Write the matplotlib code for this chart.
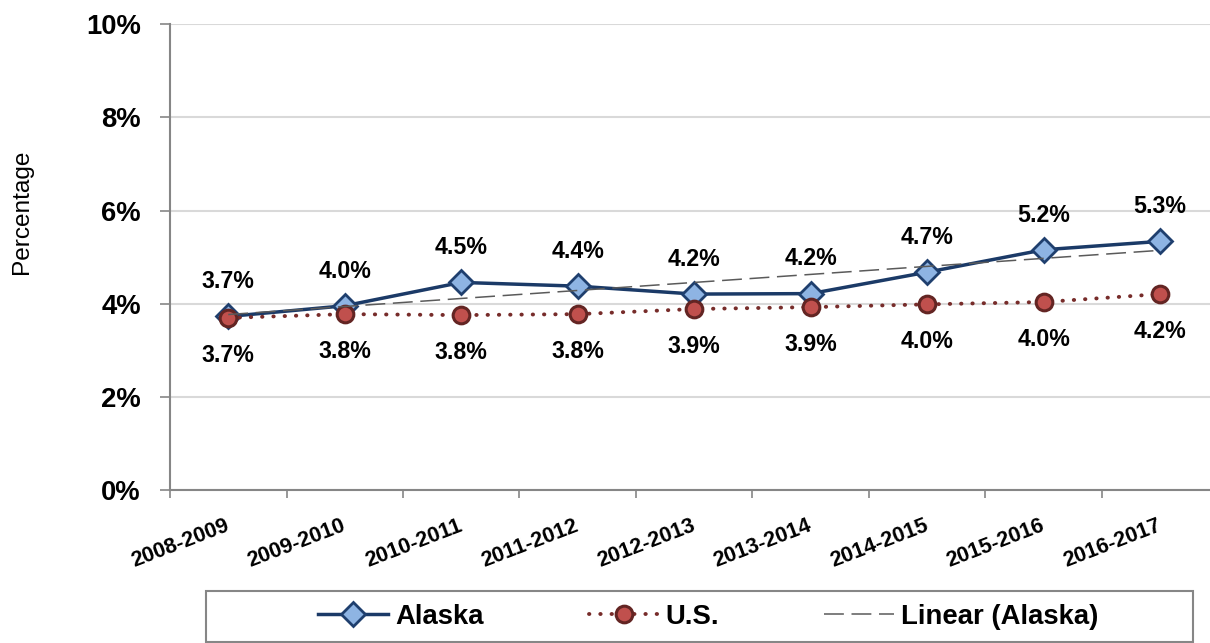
import numpy as np
import matplotlib
matplotlib.use("Agg")
import matplotlib.pyplot as plt
from matplotlib import font_manager
from matplotlib.patches import Rectangle

# Data
years = ['2008-2009', '2009-2010', '2010-2011', '2011-2012', '2012-2013',
         '2013-2014', '2014-2015', '2015-2016', '2016-2017']
alaska = [3.73, 3.96, 4.46, 4.38, 4.21, 4.22, 4.68, 5.16, 5.34]   # [%]
us = [3.70, 3.78, 3.76, 3.78, 3.89, 3.93, 3.99, 4.04, 4.21]       # [%]
y_ticks = [0, 2, 4, 6, 8, 10]

# The original uses a narrow bold face; use it if installed, else shrink Liberation Sans
names = set(f.name for f in font_manager.fontManager.ttflist)
if 'Liberation Sans Narrow' in names:
    narrow, k = 'Liberation Sans Narrow', 1.0
elif 'Arial Narrow' in names:
    narrow, k = 'Arial Narrow', 1.0
else:
    narrow, k = 'Liberation Sans', 0.9
wide = 'Liberation Sans'

x = np.arange(len(years))
trend = np.polyval(np.polyfit(x, alaska, 1), x)   # Excel style linear trendline

fig = plt.figure(figsize=(12.1, 6.43), dpi=100)
ax = fig.add_axes([0.1405, 0.2372, 0.8665, 0.7255])

ax.plot(x, alaska, '-', color='#1B3A67', lw=2.5, marker='D', ms=12,
        mfc='#8EB4E3', mec='#1F3F6E', mew=2, label='Alaska', zorder=3)
ax.plot(x, us, color='#772C2A', lw=2.8, ls=(0, (0.1, 2.8)), dash_capstyle='round',
        marker='o', ms=12, mfc='#C0504D', mec='#632523', mew=2.2, label='U.S.', zorder=4)
ax.plot(x, trend, color='#5A5A5A', lw=1.1, ls=(0, (13, 5)), label='Linear (Alaska)', zorder=5)

# data labels
for i in range(len(years)):
    ax.annotate('%.1f%%' % alaska[i], (x[i], alaska[i]), xytext=(0, 25), textcoords='offset points',
                ha='center', va='center', fontsize=18.5 * k, fontweight='bold', family=narrow)
    ax.annotate('%.1f%%' % us[i], (x[i], us[i]), xytext=(0, -27), textcoords='offset points',
                ha='center', va='center', fontsize=18.5 * k, fontweight='bold', family=narrow)

ax.set_xlim(-0.5, len(years) - 0.5)
ax.set_ylim(0, 10)
ax.set_yticks(y_ticks)
ax.set_yticklabels(['%d%%' % v for v in y_ticks], fontsize=22 * k, fontweight='bold', family=narrow)
ax.tick_params(axis='y', length=7, width=1.2, color='#868686', pad=14)

ax.set_xticks(x)
ax.set_xticks(np.arange(len(years) + 1) - 0.5, minor=True)
ax.set_xticklabels(years, rotation=21, ha='right', va='center', rotation_mode='anchor',
                   fontsize=15.5, fontweight='bold', family=wide)
ax.tick_params(axis='x', which='major', length=0, pad=25)
ax.tick_params(axis='x', which='minor', length=6, width=1.2, color='#868686')

ax.grid(axis='y', color='#D9D9D9', lw=1.5)
ax.set_axisbelow(True)
for s in ['top', 'right']:
    ax.spines[s].set_visible(False)
for s in ['left', 'bottom']:
    ax.spines[s].set_color('#868686')
    ax.spines[s].set_linewidth(1.5)

fig.text(22 / 1210, 1 - 212 / 643, 'Percentage', rotation=90, ha='center', va='center',
         fontsize=19.5 * k, family=narrow)

# legend, with the box drawn separately so it can be wider than its entries
leg_fs = 22 * k
px = leg_fs * 100 / 72
leg = fig.legend(loc='center left', bbox_to_anchor=(318 / 1210, 1 - 617 / 643), ncol=3, frameon=False,
                 borderpad=0, borderaxespad=0, handlelength=70 / px, handletextpad=7 / px,
                 columnspacing=105 / px, prop={'family': narrow, 'weight': 'bold', 'size': leg_fs})
fig.patches.append(Rectangle((206 / 1210, 1 - 642 / 643), 987 / 1210, 51 / 643,
                             transform=fig.transFigure, fill=False, ec='#868686', lw=1.5))

fig.savefig('out.png', dpi=100)
